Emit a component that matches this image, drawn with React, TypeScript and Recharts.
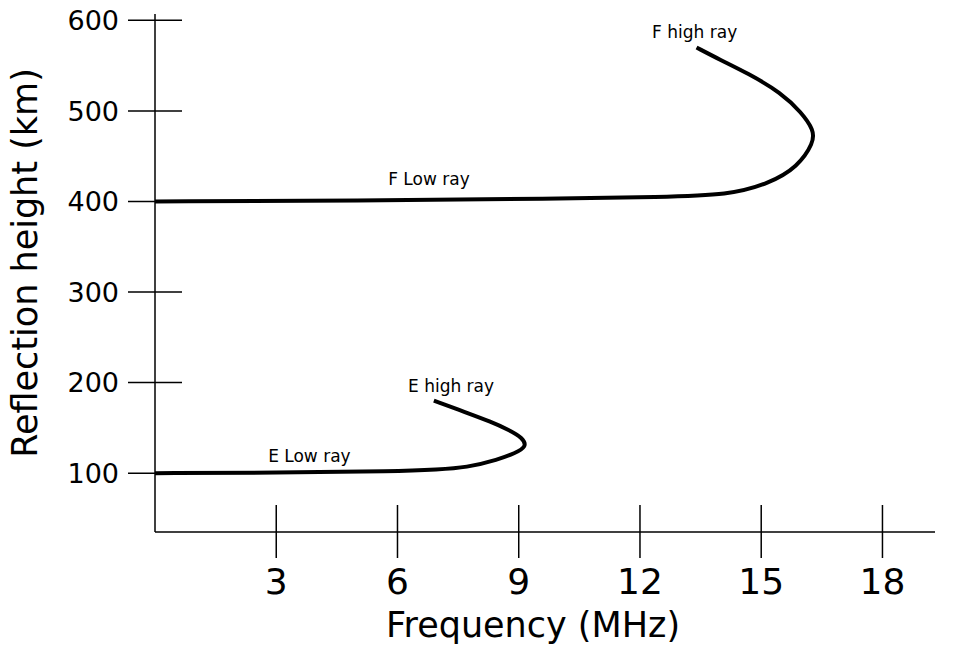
import React from 'react'
import { LineChart, Line, XAxis, YAxis, ReferenceDot } from 'recharts'

// frequency (MHz) / reflection height (km)
const eRayFreq = [0, 3, 6, 7, 7.7, 8.5, 8.9, 9.2, 9.1, 8.75, 8.3, 7.7, 6.9]
const eRayHeight = [100, 100.5, 102, 104, 106, 115, 122, 129, 139, 148, 157, 167, 180]

const fRayFreq = [0, 5, 10, 12.5, 14.2, 15.2, 15.9, 16.3, 16.3, 16.0, 15.5, 14.65, 14.0, 13.4]
const fRayHeight = [400, 401, 403, 405, 407, 420, 438, 465, 479, 498, 520, 542, 556, 570]

const xTicks = [3, 6, 9, 12, 15, 18]
const yTicks = [100, 200, 300, 400, 500, 600]

const rayLabels = [
  { text: 'F high ray', x: 12.3, y: 580 },
  { text: 'F Low ray', x: 5.77, y: 418 },
  { text: 'E high ray', x: 6.26, y: 190 },
  { text: 'E Low ray', x: 2.8, y: 112 },
]

const eRay = eRayFreq.map((f, i) => ({ x: f, y: eRayHeight[i] }))
const fRay = fRayFreq.map((f, i) => ({ x: f, y: fRayHeight[i] }))

const FONT = '"DejaVu Sans", sans-serif'
const TS = 26
const TM_Y = 10
const TM_X = 9

const YTick = (props: any) => {
  const { x, y, payload } = props
  const axisX = x + TS + TM_Y
  return (
    <g>
      <line x1={axisX - 27} x2={axisX + 27} y1={y} y2={y} stroke="#000" strokeWidth={1.5} />
      <text x={x} y={y} dy="0.36em" textAnchor="end" fontFamily={FONT} fontSize={27} fill="#000">
        {payload.value}
      </text>
    </g>
  )
}

const XTick = (props: any) => {
  const { x, y, payload } = props
  const axisY = y - TS - TM_X
  return (
    <g>
      <line x1={x} x2={x} y1={axisY - 27} y2={axisY + 26} stroke="#000" strokeWidth={1.5} />
      <text x={x} y={y + 27} textAnchor="middle" fontFamily={FONT} fontSize={36} fill="#000">
        {payload.value}
      </text>
    </g>
  )
}

const RayLabel = (text: string) => (props: any) => {
  const vb = props.viewBox || {}
  return (
    <text x={vb.x} y={vb.y} fontFamily={FONT} fontSize={17} fill="#000">
      {text}
    </text>
  )
}

export default function App() {
  return (
    <div style={{ position: 'absolute', left: 0, top: 0, background: '#fff' }}>
      <LineChart width={957} height={647} margin={{ top: 14, right: 22, bottom: 55, left: 95 }}>
        <XAxis
          type="number"
          dataKey="x"
          domain={[0, 19.3]}
          ticks={xTicks}
          allowDataOverflow
          height={60}
          axisLine={{ stroke: '#000', strokeWidth: 1.5 }}
          tickLine={false}
          tickSize={TS}
          tickMargin={TM_X}
          tick={<XTick />}
          label={(p: any) => {
            const vb = p.viewBox
            return (
              <text x={vb.x + vb.width / 2 - 12} y={637} textAnchor="middle" fontFamily={FONT} fontSize={35} fill="#000">
                Frequency (MHz)
              </text>
            )
          }}
        />
        <YAxis
          type="number"
          dataKey="y"
          domain={[35, 607]}
          ticks={yTicks}
          allowDataOverflow
          width={60}
          axisLine={{ stroke: '#000', strokeWidth: 1.5 }}
          tickLine={false}
          tickSize={TS}
          tickMargin={TM_Y}
          tick={<YTick />}
          label={() => (
            <text x={37} y={263} transform="rotate(-90 37 263)" textAnchor="middle" fontFamily={FONT} fontSize={35} fill="#000">
              Reflection height (km)
            </text>
          )}
        />
        <Line
          data={eRay}
          dataKey="y"
          type="basis"
          stroke="#000"
          strokeWidth={4}
          dot={false}
          activeDot={false}
          isAnimationActive={false}
        />
        <Line
          data={fRay}
          dataKey="y"
          type="basis"
          stroke="#000"
          strokeWidth={4}
          dot={false}
          activeDot={false}
          isAnimationActive={false}
        />
        {rayLabels.map((l) => (
          <ReferenceDot key={l.text} x={l.x} y={l.y} r={0} fill="none" stroke="none" label={RayLabel(l.text)} />
        ))}
      </LineChart>
    </div>
  )
}
